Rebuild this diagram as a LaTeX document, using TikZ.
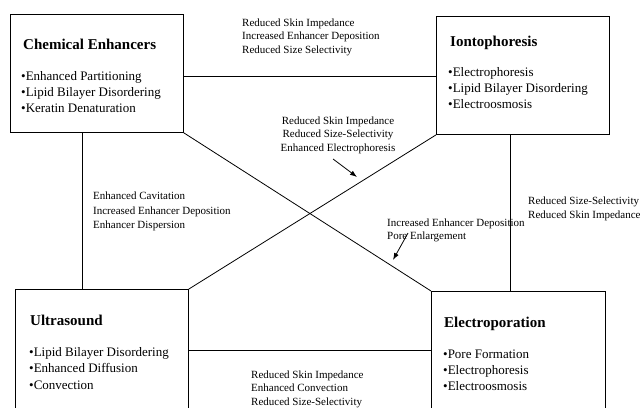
\documentclass[tikz,border=0pt]{standalone}
\usepackage{fontspec}
\setmainfont{Liberation Serif}[BoldFont={Liberation Serif Bold}]
\usetikzlibrary{arrows.meta,calc}
\begin{document}
\begin{tikzpicture}[x=1pt,y=-1pt,
  box/.style={draw=black,line width=0.9pt,inner sep=0pt,anchor=north west},
  ttl/.style={anchor=north west,inner sep=0pt,font=\fontsize{15}{17}\selectfont\bfseries},
  blt/.style={anchor=north west,inner sep=0pt,align=left,font=\fontsize{13}{16}\selectfont},
  lbl/.style={anchor=north west,inner sep=0pt,align=left,font=\fontsize{11}{13.5}\selectfont},
  conn/.style={draw=black,line width=0.8pt},
  arr/.style={draw=black,line width=0.8pt,-{Latex[length=7pt,width=5pt]}}]
\useasboundingbox (0,0) rectangle (644,407);
\clip (0,0) rectangle (644,407);
\fill[white] (0,0) rectangle (644,407);
% boxes
\node[box,minimum width=173pt,minimum height=118pt] (chem) at (10,14) {};
\node[box,minimum width=173pt,minimum height=118pt] (ionto) at (436,16) {};
\node[box,minimum width=173pt,minimum height=140pt] (ultra) at (15,289) {};
\node[box,minimum width=174pt,minimum height=140pt] (electro) at (431,291) {};
% box texts
\node[ttl] (chemT) at (23,39) {Chemical Enhancers};
\node[blt] (chemB) at (21,71) {•Enhanced Partitioning\\•Lipid Bilayer Disordering\\•Keratin Denaturation};
\node[ttl] (iontoT) at (450,36) {Iontophoresis};
\node[blt] (iontoB) at (448,67) {•Electrophoresis\\•Lipid Bilayer Disordering\\•Electroosmosis};
\node[ttl] (ultraT) at (30,315) {Ultrasound};
\node[blt,font=\fontsize{13}{16.5}\selectfont] (ultraB) at (29,347) {•Lipid Bilayer Disordering\\•Enhanced Diffusion\\•Convection};
\node[ttl] (electroT) at (444,317) {Electroporation};
\node[blt] (electroB) at (443,350) {•Pore Formation\\•Electrophoresis\\•Electroosmosis};
% helper coordinates
\coordinate (hTop) at (0,76);
\coordinate (hBot) at (0,350);
\coordinate (vL) at (82,0);
\coordinate (vR) at (510,0);
% connectors
\draw[conn] (chem.east |- hTop) -- (ionto.west |- hTop);
\draw[conn] (chem.south -| vL) -- (ultra.north -| vL);
\draw[conn] (ionto.south -| vR) -- (electro.north -| vR);
\draw[conn] (ultra.east |- hBot) -- (electro.west |- hBot);
\draw[conn] (chem.south east) -- (electro.north west);
\draw[conn] (ultra.north east) -- (ionto.south west);
% arrows
\coordinate (a1s) at (333,159);
\coordinate (a1e) at (357,177);
\coordinate (a2s) at (408,233);
\coordinate (a2e) at (393,260);
\draw[arr] (a1s) -- (a1e);
\draw[arr] (a2s) -- (a2e);
% labels
\node[lbl] (lTop) at (242,18.5) {Reduced Skin Impedance\\Increased Enhancer Deposition\\Reduced Size Selectivity};
\node[lbl,anchor=north,align=center] (lMid) at (338,116.5) {Reduced Skin Impedance\\Reduced Size-Selectivity\\Enhanced Electrophoresis};
\node[lbl,font=\fontsize{11}{14.5}\selectfont] (lLeft) at (93,192) {Enhanced Cavitation\\Increased Enhancer Deposition\\Enhancer Dispersion};
\node[lbl] (lRM) at (387,218.5) {Increased Enhancer Deposition\\Pore Enlargement};
\node[lbl,font=\fontsize{11}{14}\selectfont] (lRight) at (528,197) {Reduced Size-Selectivity\\Reduced Skin Impedance};
\node[lbl] (lBot) at (251,370.5) {Reduced Skin Impedance\\Enhanced Convection\\Reduced Size-Selectivity};
\end{tikzpicture}
\end{document}
